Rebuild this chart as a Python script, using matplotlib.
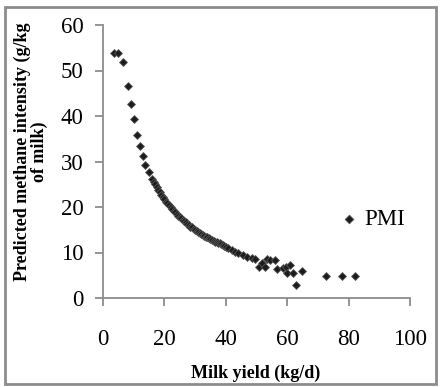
import matplotlib.pyplot as plt
from matplotlib.patches import Rectangle

# milk yield (kg/d) and predicted methane intensity (g/kg of milk)
steep_x = [3.6, 5.0, 6.6, 8.2, 9.1, 10.0, 11.2, 12.1, 12.9, 13.8, 15.0, 16.0]
steep_y = [53.8, 53.8, 51.8, 46.7, 42.7, 39.3, 35.9, 33.3, 31.2, 29.2, 27.6, 26.2]

curve_x = [16.5, 17, 17.5, 18, 18.5, 19, 19.5, 20, 20.5, 21, 21.5, 22, 22.5,
           23, 23.5, 24, 24.5, 25, 25.5, 26, 26.5, 27, 27.5, 28, 28.5, 29,
           29.5, 30, 30.5, 31, 31.5, 32, 32.5, 33, 33.5, 34, 34.5, 35, 35.5,
           36, 36.5, 37, 37.5, 38, 38.5, 39, 39.5, 40]
curve_y = [25.6, 25.0, 24.4, 23.8, 23.2, 22.7, 22.2, 21.7, 21.2, 20.8, 20.4,
           20.0, 19.6, 19.2, 18.8, 18.5, 18.1, 17.8, 17.5, 17.2, 16.9, 16.6,
           16.3, 16.0, 15.7, 15.5, 15.2, 15.0, 14.7, 14.5, 14.3, 14.1, 13.9,
           13.7, 13.5, 13.3, 13.1, 12.9, 12.7, 12.6, 12.4, 12.3, 12.1, 12.0,
           11.8, 11.6, 11.4, 11.2]

tail_x = [40.8, 41.9, 43.0, 44.1, 45.7, 46.8, 48.4, 49.5, 50.9, 51.7, 52.8,
          53.3, 54.4, 56.0, 56.8, 58.7, 59.7, 60.0, 60.9, 62.0, 63.0, 64.9,
          72.8, 77.7, 82.1]
tail_y = [10.9, 10.5, 10.2, 9.8, 9.5, 9.1, 8.7, 8.6, 6.9, 7.8, 6.9,
          8.6, 8.4, 8.4, 6.3, 6.5, 6.9, 5.6, 7.3, 5.4, 2.9, 6.0,
          4.8, 4.8, 4.8]

x_ticks = [0, 20, 40, 60, 80, 100]
y_ticks = [0, 10, 20, 30, 40, 50, 60]

plt.rcParams["font.family"] = ["Liberation Serif", "DejaVu Serif"]

fig = plt.figure(figsize=(4.4, 3.87), dpi=100)
W, H = 440, 387
ax = fig.add_axes([103 / W, 1 - 298 / H, 307 / W, 273 / H])

xs = steep_x + curve_x + tail_x
ys = steep_y + curve_y + tail_y
ax.scatter(xs, ys, marker="D", s=16, color="#1c1c1c", edgecolors="#555555",
           linewidths=0.6, label="PMI", zorder=3)

ax.set_xlim(0, 100)
ax.set_ylim(0, 60)
ax.set_xticks(x_ticks)
ax.set_yticks(y_ticks)
for side in ["top", "right"]:
    ax.spines[side].set_visible(False)
for side in ["left", "bottom"]:
    ax.spines[side].set_color("#8c8c8c")
    ax.spines[side].set_linewidth(1.3)
ax.tick_params(axis="x", direction="out", length=6, width=1.3, color="#8c8c8c",
               labelsize=16.5, pad=16)
ax.tick_params(axis="y", direction="out", length=6, width=1.3, color="#8c8c8c",
               labelsize=16.5, pad=8)

ax.legend(loc="center left", bbox_to_anchor=(0.77, 0.286), frameon=False,
          fontsize=16.5, handlelength=0.8, handletextpad=0.3, borderpad=0,
          borderaxespad=0, markerscale=1.1)

fig.text(256 / W, 1 - 373 / H, "Milk yield (kg/d)", ha="center", va="center",
         fontsize=13, fontweight="bold")
fig.text(31 / W, 1 - 152 / H, "Predicted methane intensity (g/kg\nof milk)",
         ha="center", va="center", rotation=90, fontsize=13,
         fontweight="bold", linespacing=1.0)

fig.patches.append(Rectangle((5 / W, 3 / H), 431 / W, 377 / H,
                             transform=fig.transFigure, fill=False,
                             edgecolor="#8c8c8c", linewidth=2))

fig.savefig("out.png", dpi=100)
